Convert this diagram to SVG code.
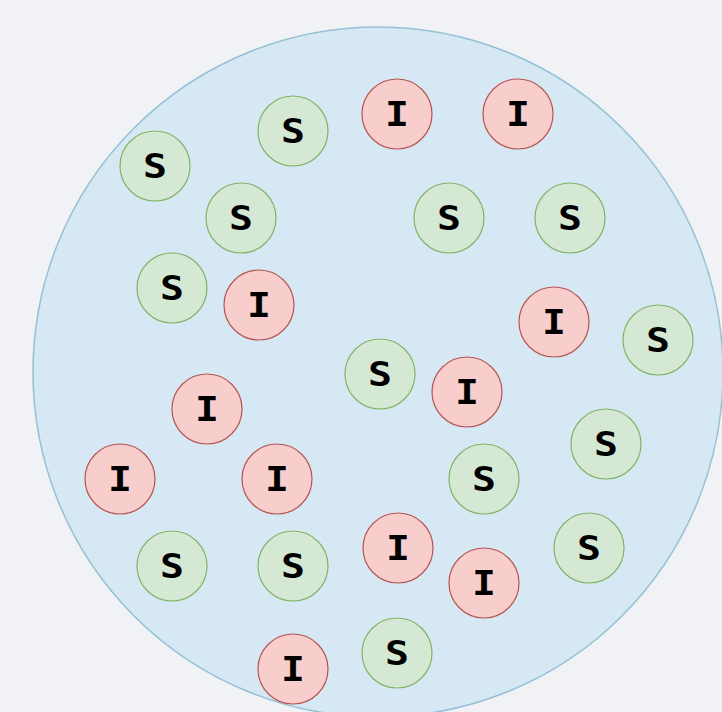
<svg xmlns="http://www.w3.org/2000/svg" width="722" height="712" viewBox="0 0 722 712">
<style>
.s circle{fill:#d5e8d4;stroke:#82b366;stroke-width:1.2}
.i circle{fill:#f8cecc;stroke:#b85450;stroke-width:1.2}
text{font-family:"DejaVu Sans Mono","Liberation Mono",monospace;font-weight:bold;font-size:34px;text-anchor:middle;fill:#000}
</style>
<rect width="722" height="712" fill="#f0f2f6"/>
<g id="population">
<circle cx="378" cy="372" r="345" fill="#d5e8f3" stroke="#96c0d6" stroke-width="1.5"/>
</g>
<g id="connectors"></g>
<g id="n1" class="s"><circle cx="155" cy="166" r="35"/><text x="155" y="178" textLength="24" lengthAdjust="spacingAndGlyphs">S</text></g>
<g id="n2" class="s"><circle cx="293" cy="131" r="35"/><text x="293" y="143" textLength="24" lengthAdjust="spacingAndGlyphs">S</text></g>
<g id="n3" class="i"><circle cx="397" cy="114" r="35"/><text x="397" y="126" textLength="24" lengthAdjust="spacingAndGlyphs">I</text></g>
<g id="n4" class="i"><circle cx="518" cy="114" r="35"/><text x="518" y="126" textLength="24" lengthAdjust="spacingAndGlyphs">I</text></g>
<g id="n5" class="s"><circle cx="241" cy="218" r="35"/><text x="241" y="230" textLength="24" lengthAdjust="spacingAndGlyphs">S</text></g>
<g id="n6" class="s"><circle cx="449" cy="218" r="35"/><text x="449" y="230" textLength="24" lengthAdjust="spacingAndGlyphs">S</text></g>
<g id="n7" class="s"><circle cx="570" cy="218" r="35"/><text x="570" y="230" textLength="24" lengthAdjust="spacingAndGlyphs">S</text></g>
<g id="n8" class="s"><circle cx="172" cy="288" r="35"/><text x="172" y="300" textLength="24" lengthAdjust="spacingAndGlyphs">S</text></g>
<g id="n9" class="i"><circle cx="259" cy="305" r="35"/><text x="259" y="317" textLength="24" lengthAdjust="spacingAndGlyphs">I</text></g>
<g id="n10" class="i"><circle cx="554" cy="322" r="35"/><text x="554" y="334" textLength="24" lengthAdjust="spacingAndGlyphs">I</text></g>
<g id="n11" class="s"><circle cx="658" cy="340" r="35"/><text x="658" y="352" textLength="24" lengthAdjust="spacingAndGlyphs">S</text></g>
<g id="n12" class="s"><circle cx="380" cy="374" r="35"/><text x="380" y="386" textLength="24" lengthAdjust="spacingAndGlyphs">S</text></g>
<g id="n13" class="i"><circle cx="467" cy="392" r="35"/><text x="467" y="404" textLength="24" lengthAdjust="spacingAndGlyphs">I</text></g>
<g id="n14" class="i"><circle cx="207" cy="409" r="35"/><text x="207" y="421" textLength="24" lengthAdjust="spacingAndGlyphs">I</text></g>
<g id="n15" class="s"><circle cx="606" cy="444" r="35"/><text x="606" y="456" textLength="24" lengthAdjust="spacingAndGlyphs">S</text></g>
<g id="n16" class="i"><circle cx="120" cy="479" r="35"/><text x="120" y="491" textLength="24" lengthAdjust="spacingAndGlyphs">I</text></g>
<g id="n17" class="i"><circle cx="277" cy="479" r="35"/><text x="277" y="491" textLength="24" lengthAdjust="spacingAndGlyphs">I</text></g>
<g id="n18" class="s"><circle cx="484" cy="479" r="35"/><text x="484" y="491" textLength="24" lengthAdjust="spacingAndGlyphs">S</text></g>
<g id="n19" class="s"><circle cx="172" cy="566" r="35"/><text x="172" y="578" textLength="24" lengthAdjust="spacingAndGlyphs">S</text></g>
<g id="n20" class="s"><circle cx="293" cy="566" r="35"/><text x="293" y="578" textLength="24" lengthAdjust="spacingAndGlyphs">S</text></g>
<g id="n21" class="i"><circle cx="398" cy="548" r="35"/><text x="398" y="560" textLength="24" lengthAdjust="spacingAndGlyphs">I</text></g>
<g id="n22" class="s"><circle cx="589" cy="548" r="35"/><text x="589" y="560" textLength="24" lengthAdjust="spacingAndGlyphs">S</text></g>
<g id="n23" class="i"><circle cx="484" cy="583" r="35"/><text x="484" y="595" textLength="24" lengthAdjust="spacingAndGlyphs">I</text></g>
<g id="n24" class="i"><circle cx="293" cy="669" r="35"/><text x="293" y="681" textLength="24" lengthAdjust="spacingAndGlyphs">I</text></g>
<g id="n25" class="s"><circle cx="397" cy="653" r="35"/><text x="397" y="665" textLength="24" lengthAdjust="spacingAndGlyphs">S</text></g>
</svg>
